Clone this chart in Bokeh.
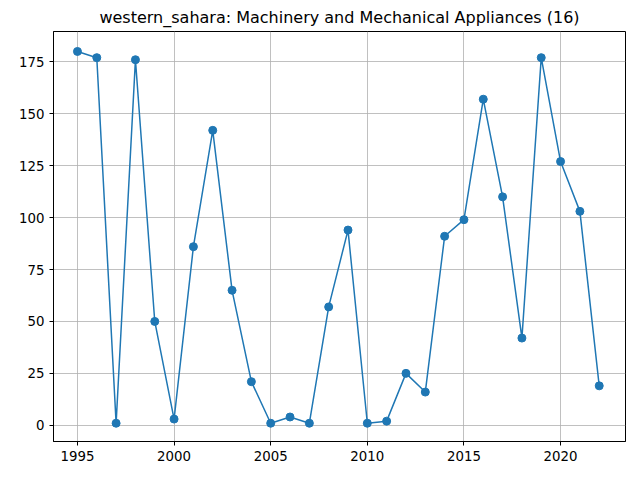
from bokeh.plotting import figure
from bokeh.models import Range1d, FixedTicker
from bokeh.embed import file_html
from bokeh.resources import INLINE

years = list(range(1995, 2023))
values = [180, 177, 1, 176, 50, 3, 86, 142, 65, 21, 1, 4, 1, 57, 94,
          1, 2, 25, 16, 91, 99, 157, 110, 42, 177, 127, 103, 19]

p = figure(width=632, height=472, output_backend="svg", toolbar_location=None,
           title="western_sahara: Machinery and Mechanical Appliances (16)",
           x_range=Range1d(1993.76, 2023.36), y_range=Range1d(-7.8, 189.6),
           min_border_left=53, min_border_right=7, min_border_bottom=31, min_border_top=6)
p.title.align = "center"
p.title.text_font = "DejaVu Sans"
p.title.text_font_size = "12pt"
p.title.text_font_style = "normal"
p.title.text_color = "black"

p.line(years, values, line_color="#1f77b4", line_width=1.5)
p.scatter(years, values, size=8, color="#1f77b4")

p.xaxis.ticker = FixedTicker(ticks=[1995, 2000, 2005, 2010, 2015, 2020])
p.yaxis.ticker = FixedTicker(ticks=[0, 25, 50, 75, 100, 125, 150, 175])
for ax in (p.xaxis, p.yaxis):
    ax.major_label_text_font = "DejaVu Sans"
    ax.major_label_text_font_size = "10pt"
    ax.major_label_text_color = "black"
    ax.minor_tick_line_color = None
    ax.axis_line_color = "black"
    ax.major_tick_line_color = "black"
    ax.major_tick_out = 4
    ax.major_tick_in = 0
p.grid.grid_line_color = "#b0b0b0"
p.grid.grid_line_width = 0.8
p.outline_line_color = "black"

open("out.html", "w").write(file_html(p, INLINE))
